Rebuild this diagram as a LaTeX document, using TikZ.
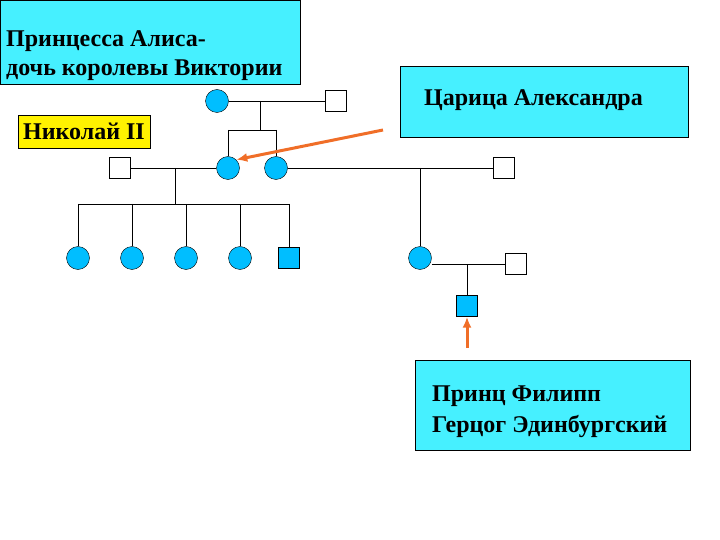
\documentclass[tikz,border=0pt]{standalone}
\usepackage{fontspec}
\setmainfont{Liberation Serif}
\usetikzlibrary{arrows.meta}
\begin{document}
\begin{tikzpicture}[x=1pt,y=-1pt,
  fem/.style={circle,draw=black,fill={rgb,255:red,0;green,190;blue,255},minimum size=23pt,inner sep=0pt},
  mal/.style={rectangle,draw=black,fill=white,minimum size=21pt,inner sep=0pt},
  malc/.style={mal,fill={rgb,255:red,0;green,190;blue,255}},
  box/.style={draw=black,fill={rgb,255:red,70;green,240;blue,255},anchor=north west,inner sep=0pt},
  txt/.style={font=\bfseries\fontsize{24}{29}\selectfont,align=left,anchor=west,inner sep=0pt},
  ln/.style={draw=black,line width=0.8pt},
  arr/.style={draw={rgb,255:red,240;green,110;blue,40},line width=3pt,-{Latex[length=11pt,width=9pt]}}]
\useasboundingbox (0,0) rectangle (720,540);
\node[box,minimum width=300pt,minimum height=84pt] (b1) at (0,0) {};
\node[txt] (t1) at (6,56) {Принцесса Алиса-\\дочь королевы Виктории};
\node[box,minimum width=288pt,minimum height=71pt] (b2) at (400,66) {};
\node[txt] (t2) at (424,100) {Царица Александра};
\node[box,fill=yellow,minimum width=132pt,minimum height=33pt] (b3) at (18,115) {};
\node[txt] (t3) at (23,131) {Николай II};
\node[box,minimum width=275pt,minimum height=90pt] (b4) at (415,360) {};
\node[txt,font=\bfseries\fontsize{24}{31}\selectfont] (t4) at (432,412) {Принц Филипп\\Герцог Эдинбургский};
% generation 1
\node[fem] (g1f) at (217,101) {};
\node[mal] (g1m) at (336,101) {};
\coordinate (c1) at (260,101);
\coordinate (c1b) at (260,130);
\coordinate (c1l) at (228,130);
\coordinate (c1r) at (276,130);
\draw[ln] (g1f) -- (g1m);
\draw[ln] (c1) -- (c1b);
% generation 2
\node[mal] (n2) at (120,168) {};
\node[fem] (al) at (228,168) {};
\node[fem] (s2) at (276,168) {};
\node[mal] (h2) at (504,168) {};
\draw[ln] (c1l) -- (c1r);
\draw[ln] (c1l) -- (al);
\draw[ln] (c1r) -- (s2);
\draw[ln] (n2) -- (al);
\draw[ln] (s2) -- (h2);
% children of Nicholas
\coordinate (c2) at (175,168);
\coordinate (c2b) at (175,204);
\coordinate (k1t) at (78,204);
\coordinate (k5t) at (289,204);
\draw[ln] (c2) -- (c2b);
\draw[ln] (k1t) -- (k5t);
\foreach \x/\n in {78/k1,132/k2,186/k3,240/k4}{
  \node[fem] (\n) at (\x,258) {};
  \coordinate (\n t) at (\x,204);
  \draw[ln] (\n t) -- (\n);
}
\node[malc] (k5) at (289,258) {};
\draw[ln] (k5t) -- (k5);
% other branch
\node[fem] (d) at (420,258) {};
\coordinate (c3) at (420,168);
\draw[ln] (c3) -- (d);
\node[mal] (dh) at (516,264) {};
\draw[ln] (d.east |- dh) -- (dh);
\coordinate (c4) at (467,264);
\node[malc] (ph) at (467,306) {};
\draw[ln] (c4) -- (ph);
% arrows
\coordinate (a1s) at (383,130);
\coordinate (a2s) at (467,348);
\draw[arr] (a1s) -- (al.north east);
\draw[arr] (a2s) -- (ph.south);
\end{tikzpicture}
\end{document}
